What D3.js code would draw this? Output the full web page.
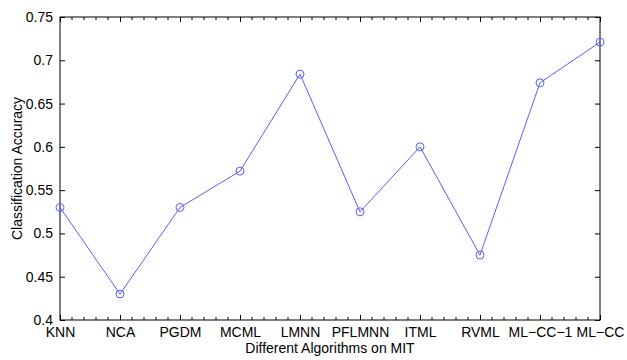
<!DOCTYPE html>
<html>
<head>
<meta charset="utf-8">
<script src="https://cdn.jsdelivr.net/npm/d3@7"></script>
<style>
  body { margin: 0; background: #fff; }
  text { font-family: "Liberation Sans", Arial, sans-serif; fill: #000; }
</style>
</head>
<body>
<div id="chart"></div>
<script>
var algorithms = ["KNN", "NCA", "PGDM", "MCML", "LMNN", "PFLMNN", "ITML", "RVML", "ML\u2212CC\u22121", "ML\u2212CC"];
var accuracy = [0.530, 0.430, 0.530, 0.572, 0.684, 0.525, 0.600, 0.475, 0.674, 0.721];
var yTicks = [0.4, 0.45, 0.5, 0.55, 0.6, 0.65, 0.7, 0.75];
var yTickLabels = ["0.4", "0.45", "0.5", "0.55", "0.6", "0.65", "0.7", "0.75"];

var width = 627, height = 360;
var margin = {left: 60, right: 27, top: 17, bottom: 40};

var svg = d3.select("#chart").append("svg")
  .attr("width", width).attr("height", height);

var x = d3.scaleLinear().domain([1, algorithms.length]).range([margin.left, width - margin.right]);
var y = d3.scaleLinear().domain([0.4, 0.75]).range([height - margin.bottom, margin.top]);

var blue = "#5c5cff";
var idx = d3.range(1, algorithms.length + 1);
var minor = d3.range(1, algorithms.length + 0.001, 0.2).filter(function(v){ return Math.abs(v - Math.round(v)) > 1e-6; });

// bottom axis
svg.append("g")
  .attr("transform", "translate(0," + y(0.4) + ")")
  .call(d3.axisBottom(x).tickValues(idx).tickSize(-5).tickFormat(function(d){ return algorithms[d - 1]; }))
  .call(function(g){
    g.select(".domain").remove();
    g.selectAll("text").attr("dy", 0).attr("y", 17).style("font-size", "14px");
  });
// minor ticks bottom and top
svg.append("g").selectAll("line").data(minor).enter().append("line")
  .attr("x1", x).attr("x2", x).attr("y1", y(0.4)).attr("y2", y(0.4) - 3)
  .attr("stroke", "#000");
svg.append("g").selectAll("line").data(minor).enter().append("line")
  .attr("x1", x).attr("x2", x).attr("y1", y(0.75)).attr("y2", y(0.75) + 3)
  .attr("stroke", "#000");
// top major
svg.append("g")
  .attr("transform", "translate(0," + y(0.75) + ")")
  .call(d3.axisTop(x).tickValues(idx).tickSize(-5).tickFormat(""))
  .call(function(g){ g.select(".domain").remove(); });

// left axis
svg.append("g")
  .attr("transform", "translate(" + x(1) + ",0)")
  .call(d3.axisLeft(y).tickValues(yTicks).tickSize(-5).tickPadding(7)
    .tickFormat(function(d, i){ return yTickLabels[i]; }))
  .call(function(g){
    g.select(".domain").remove();
    g.selectAll("text").style("font-size", "14px");
  });
// right axis
svg.append("g")
  .attr("transform", "translate(" + x(algorithms.length) + ",0)")
  .call(d3.axisRight(y).tickValues(yTicks).tickSize(-5).tickFormat(""))
  .call(function(g){ g.select(".domain").remove(); });

// box
svg.append("rect")
  .attr("x", x(1)).attr("y", y(0.75))
  .attr("width", x(algorithms.length) - x(1)).attr("height", y(0.4) - y(0.75))
  .attr("fill", "none").attr("stroke", "#000").attr("stroke-width", 1);

// line + markers
var line = d3.line().x(function(d, i){ return x(i + 1); }).y(function(d){ return y(d); });
svg.append("path").datum(accuracy)
  .attr("d", line).attr("fill", "none").attr("stroke", blue).attr("stroke-width", 1);
svg.append("g").selectAll("circle").data(accuracy).enter().append("circle")
  .attr("cx", function(d, i){ return x(i + 1); }).attr("cy", y)
  .attr("r", 4).attr("fill", "none").attr("stroke", blue).attr("stroke-width", 1);

// labels
svg.append("text").attr("x", 330).attr("y", 353).attr("text-anchor", "middle")
  .style("font-size", "14px").text("Different Algorithms on MIT");
svg.append("text").attr("transform", "translate(22," + ((y(0.4) + y(0.75)) / 2) + ") rotate(-90)")
  .attr("text-anchor", "middle").style("font-size", "14px").text("Classification Accuracy");
</script>
</body>
</html>
